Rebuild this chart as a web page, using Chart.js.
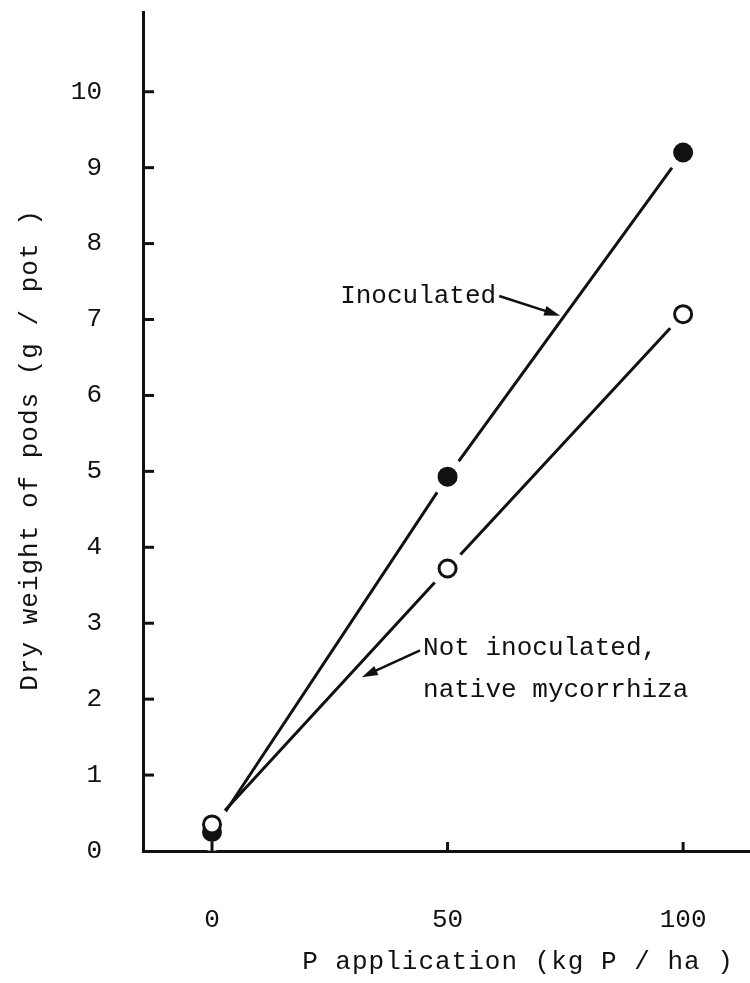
<!DOCTYPE html>
<html>
<head>
<meta charset="utf-8">
<title>Dry weight of pods</title>
<script src="https://cdn.jsdelivr.net/npm/chart.js@4/dist/chart.umd.min.js"></script>
<style>
  html, body { margin: 0; padding: 0; background: #fff; }
  canvas { display: block; }
</style>
</head>
<body>
<canvas id="chart" width="750" height="983"></canvas>
<script>
document.addEventListener("DOMContentLoaded", () => {

  /* ================= DATA ================= */
  const pApplied = [0, 50, 100];
  const inoculated = [0.25, 4.93, 9.2];
  const notInoculated = [0.35, 3.72, 7.07];

  const xTicks = [0, 50, 100];
  const yTicks = [0, 1, 2, 3, 4, 5, 6, 7, 8, 9, 10];

  const xTitle = "P application (kg P / ha )";
  const yTitle = "Dry weight of pods (g / pot )";

  /* ================= STYLE ================= */
  const INK = "#111";
  const FONT = "Liberation Mono, DejaVu Sans Mono, monospace";
  const FONT_SIZE = 26;

  const toPoints = (xs, ys) => xs.map((x, i) => ({ x, y: ys[i] }));

  /* ================= PLUGINS ================= */
  // white halo round each point so the line stops short of the marker
  const markers = {
    id: "markers",
    afterDatasetsDraw(chart) {
      const ctx = chart.ctx;
      ctx.save();
      chart.data.datasets.forEach((ds, di) => {
        chart.getDatasetMeta(di).data.forEach(pt => {
          ctx.beginPath();
          ctx.arc(pt.x, pt.y, 19, 0, Math.PI * 2);
          ctx.fillStyle = "#fff";
          ctx.fill();
        });
      });
      chart.data.datasets.forEach((ds, di) => {
        chart.getDatasetMeta(di).data.forEach(pt => {
          ctx.beginPath();
          if (ds.filled) {
            ctx.arc(pt.x, pt.y, 10, 0, Math.PI * 2);
            ctx.fillStyle = INK;
            ctx.fill();
          } else {
            ctx.arc(pt.x, pt.y, 8.5, 0, Math.PI * 2);
            ctx.fillStyle = "#fff";
            ctx.fill();
            ctx.lineWidth = 3;
            ctx.strokeStyle = INK;
            ctx.stroke();
          }
        });
      });
      ctx.restore();
    }
  };

  const arrow = (ctx, x1, y1, x2, y2) => {
    const a = Math.atan2(y2 - y1, x2 - x1);
    ctx.beginPath();
    ctx.moveTo(x1, y1);
    ctx.lineTo(x2 - 10 * Math.cos(a), y2 - 10 * Math.sin(a));
    ctx.lineWidth = 2.5;
    ctx.stroke();
    ctx.beginPath();
    ctx.moveTo(x2, y2);
    ctx.lineTo(x2 - 16 * Math.cos(a) + 5 * Math.sin(a), y2 - 16 * Math.sin(a) - 5 * Math.cos(a));
    ctx.lineTo(x2 - 16 * Math.cos(a) - 5 * Math.sin(a), y2 - 16 * Math.sin(a) + 5 * Math.cos(a));
    ctx.closePath();
    ctx.fill();
  };

  // inward ticks, tick labels, axis titles and the two labels with arrows
  const decorations = {
    id: "decorations",
    afterDraw(chart) {
      const ctx = chart.ctx;
      const xs = chart.scales.x;
      const ys = chart.scales.y;
      const area = chart.chartArea;
      ctx.save();
      ctx.strokeStyle = INK;
      ctx.fillStyle = INK;
      ctx.lineWidth = 3;
      ctx.font = `${FONT_SIZE}px ${FONT}`;
      ctx.textBaseline = "middle";

      /* TICKS */
      ctx.textAlign = "right";
      ys.ticks.forEach(t => {
        const y = ys.getPixelForValue(t.value);
        ctx.fillText(String(t.value), area.left - 41, y);
        if (t.value === 0) return;
        ctx.beginPath();
        ctx.moveTo(area.left, y);
        ctx.lineTo(area.left + 11, y);
        ctx.stroke();
      });
      ctx.textAlign = "center";
      xs.ticks.forEach(t => {
        const x = xs.getPixelForValue(t.value);
        ctx.fillText(String(t.value), x, area.bottom + 69);
        ctx.beginPath();
        ctx.moveTo(x, area.bottom);
        ctx.lineTo(x, area.bottom - 9);
        ctx.stroke();
      });

      /* TITLES */
      ctx.letterSpacing = "1px";
      ctx.fillText(xTitle, 518, 962);
      ctx.save();
      ctx.translate(30, 450);
      ctx.rotate(-Math.PI / 2);
      ctx.fillText(yTitle, 0, 0);
      ctx.restore();
      ctx.letterSpacing = "0px";

      /* LABELS */
      ctx.textAlign = "left";
      const px = v => xs.getPixelForValue(v);
      const py = v => ys.getPixelForValue(v);

      const inoX = px(27.2), inoY = py(7.31);
      ctx.fillText("Inoculated", inoX, inoY);
      const inoEnd = inoX + ctx.measureText("Inoculated").width + 3;
      arrow(ctx, inoEnd, inoY, px(73.9), py(7.05));

      const notX = px(44.8), notY = py(2.67);
      ctx.fillText("Not inoculated,", notX, notY);
      ctx.fillText("native mycorrhiza", notX, py(2.12));
      arrow(ctx, notX - 3, notY + 2, px(31.8), py(2.29));

      ctx.restore();
    }
  };

  /* ================= CHART ================= */
  const lineStyle = {
    borderColor: INK,
    borderWidth: 3,
    pointRadius: 0,
    pointHoverRadius: 0,
    tension: 0,
    fill: false
  };

  new Chart(document.getElementById("chart"), {
    type: "line",
    data: {
      datasets: [
        { label: "Inoculated", data: toPoints(pApplied, inoculated), filled: true, ...lineStyle },
        { label: "Not inoculated, native mycorrhiza", data: toPoints(pApplied, notInoculated), filled: false, ...lineStyle }
      ]
    },
    options: {
      responsive: false,
      animation: false,
      layout: { padding: { top: 12, right: 0, left: 0, bottom: 0 } },
      plugins: {
        legend: { display: false },
        tooltip: { enabled: false },
        title: { display: false }
      },
      scales: {
        x: {
          type: "linear",
          min: -14.65,
          max: 114.2,
          afterBuildTicks: s => { s.ticks = xTicks.map(v => ({ value: v })); },
          afterFit: s => { s.height = 132; },
          grid: { display: false, drawTicks: false },
          border: { display: true, color: INK, width: 3 },
          ticks: { display: false }
        },
        y: {
          type: "linear",
          min: 0,
          max: 11.05,
          afterBuildTicks: s => { s.ticks = yTicks.map(v => ({ value: v })); },
          afterFit: s => { s.width = 143; },
          grid: { display: false, drawTicks: false },
          border: { display: true, color: INK, width: 3 },
          ticks: { display: false }
        }
      }
    },
    plugins: [markers, decorations]
  });

});
</script>
</body>
</html>
